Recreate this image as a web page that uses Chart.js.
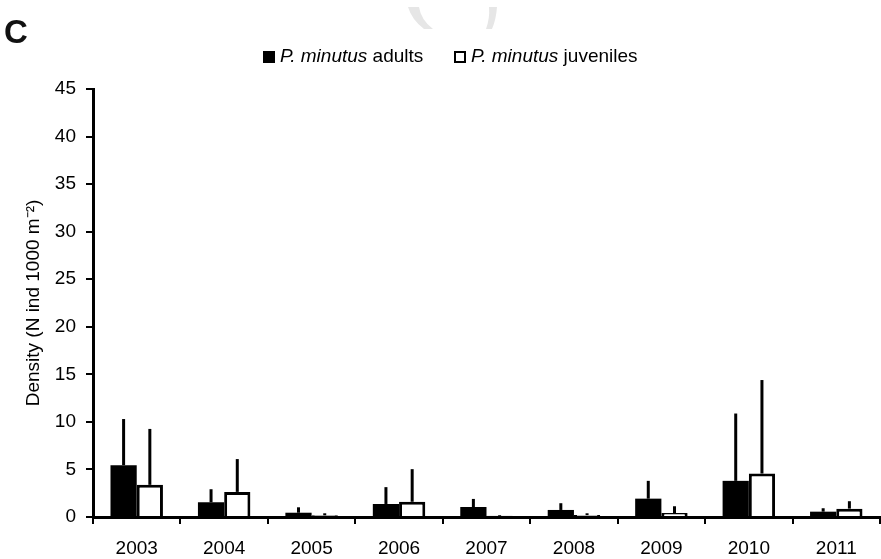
<!DOCTYPE html>
<html>
<head>
<meta charset="utf-8">
<script src="https://cdn.jsdelivr.net/npm/chart.js@4/dist/chart.umd.min.js"></script>
<style>
  html, body { margin: 0; padding: 0; background: #fff; }
  #wrap { position: relative; width: 881px; height: 559px; overflow: hidden; font-family: "Liberation Sans", Arial, sans-serif; }
  #c { position: absolute; left: 0; top: 0; }
  .panel { position: absolute; left: 4px; top: 13px; font-weight: bold; font-size: 33px; color: #111; }
  .leg { position: absolute; top: 44px; font-size: 19px; color: #000; white-space: nowrap; line-height: 24px; }
  .box { display: inline-block; box-sizing: border-box; width: 12px; height: 12px; border: 2.5px solid #000; margin-right: 5px; vertical-align: -1px; }
  #wm { position: absolute; left: 0; top: 0; }
</style>
</head>
<body>
<div id="wrap">
  <svg id="wm" width="881" height="40">
    <path d="M408,7 L419,7 Q421,20 433,29 L424,29 Q412,20 408,7 Z" fill="#e6e6e6"/>
    <path d="M489,7 L497,7 Q496,20 492,29 L486,29 Q490,18 489,7 Z" fill="#e6e6e6"/>
  </svg>
  <canvas id="c" width="881" height="559"></canvas>
  <div class="panel">C</div>
  <div class="leg" style="left:263px;"><span class="box" style="background:#000"></span><i>P. minutus</i> adults</div>
  <div class="leg" style="left:454px;"><span class="box" style="background:#fff"></span><i>P. minutus</i> juveniles</div>
</div>
<script>
const years = ['2003','2004','2005','2006','2007','2008','2009','2010','2011'];
const adultsMean = [5.45, 1.55, 0.45, 1.37, 1.05, 0.74, 1.93, 3.8, 0.56];
const adultsErr  = [4.85, 1.37, 0.57, 1.77, 0.85, 0.71, 1.87, 7.08, 0.36];
const juvMean    = [3.38, 2.64, 0.18, 1.6, 0.13, 0.2, 0.42, 4.57, 0.88];
const juvErr     = [5.88, 3.45, 0.21, 3.43, 0.08, 0.19, 0.71, 9.83, 0.78];
const yTitle = 'Density (N ind 1000 m\u207B\u00B2)';

const errorBars = {
  id: 'errorBars',
  afterDatasetsDraw(chart) {
    const ctx = chart.ctx;
    const yScale = chart.scales.y;
    ctx.save();
    ctx.strokeStyle = '#000';
    ctx.lineWidth = 3;
    chart.data.datasets.forEach((ds, i) => {
      const meta = chart.getDatasetMeta(i);
      meta.data.forEach((bar, j) => {
        const v = ds.data[j] + ds.errors[j];
        const yTop = yScale.getPixelForValue(v);
        ctx.beginPath();
        ctx.moveTo(bar.x, bar.y);
        ctx.lineTo(bar.x, yTop);
        ctx.stroke();
      });
    });
    ctx.restore();
  }
};

const font = { family: '"Liberation Sans", Arial, sans-serif', size: 19 };

new Chart(document.getElementById('c'), {
  type: 'bar',
  data: {
    labels: years,
    datasets: [
      { label: 'P. minutus adults', data: adultsMean, errors: adultsErr, backgroundColor: '#000', borderColor: '#000', borderWidth: 0 },
      { label: 'P. minutus juveniles', data: juvMean, errors: juvErr, backgroundColor: '#fff', borderColor: '#000', borderWidth: 3 }
    ]
  },
  options: {
    responsive: false,
    animation: false,
    devicePixelRatio: 1,
    datasets: { bar: { categoryPercentage: 0.6, barPercentage: 1.0 } },
    layout: { padding: { top: 89, left: 0, right: 1, bottom: 0 } },
    plugins: { legend: { display: false }, tooltip: { enabled: false } },
    scales: {
      x: {
        grid: { display: true, drawOnChartArea: false, drawTicks: true, tickLength: 7, color: '#000', lineWidth: 2, offset: true },
        border: { display: true, color: '#000', width: 3 },
        ticks: { color: '#000', font: font, padding: 13, maxRotation: 0 },
        afterFit(s) { s.height = 42; }
      },
      y: {
        min: 0, max: 45,
        ticks: { stepSize: 5, color: '#000', font: font, padding: 10 },
        grid: { display: true, drawOnChartArea: false, drawTicks: true, tickLength: 7, color: '#000', lineWidth: 2 },
        border: { display: true, color: '#000', width: 3 },
        title: { display: true, text: yTitle, color: '#000', font: { family: '"Liberation Sans", Arial, sans-serif', size: 19 }, padding: { top: 22, bottom: 0 } },
        afterFit(s) { s.width = 93; }
      }
    }
  },
  plugins: [errorBars]
});
</script>
</body>
</html>
